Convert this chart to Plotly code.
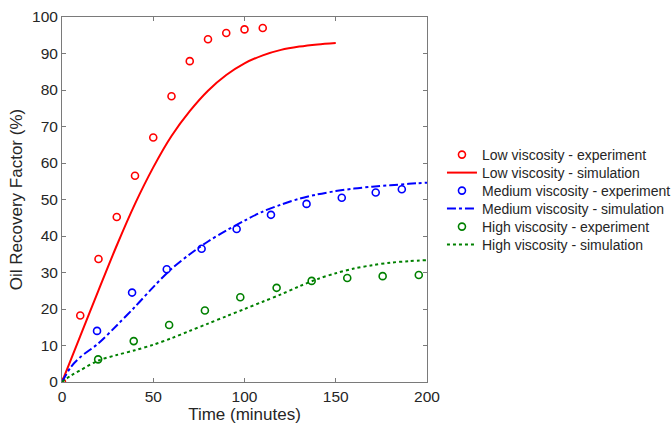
import plotly.graph_objects as go

# Experimental data
low_exp_t = [0, 10, 20, 30, 40, 50, 60, 70, 80, 90, 100, 110]
low_exp_v = [0, 18.2, 33.7, 45.2, 56.5, 67.0, 78.3, 87.9, 93.9, 95.6, 96.6, 97.0]
med_exp_t = [19.2, 38.4, 57.4, 76.5, 95.7, 114.5, 134, 153.3, 171.9, 186.2]
med_exp_v = [14.0, 24.5, 30.9, 36.5, 41.9, 45.8, 48.8, 50.5, 51.9, 52.8]
high_exp_t = [19.8, 39.3, 58.7, 78.3, 97.7, 117.6, 136.8, 156.3, 175.7, 195.5]
high_exp_v = [6.2, 11.2, 15.6, 19.6, 23.2, 25.8, 27.7, 28.5, 29.0, 29.3]

# Simulation curves
low_sim_t = [0, 10, 20, 30, 40, 50, 60, 70, 80, 90, 100, 110, 120, 130, 140, 150]
low_sim_v = [0, 12.6, 25.1, 37.4, 48.8, 58.8, 67.4, 74.2, 79.8, 84.1, 87.3, 89.5, 91.0, 91.9, 92.5, 92.9]
sim_t = [0, 5, 10, 20, 30, 40, 50, 60, 70, 80, 90, 100, 110, 120, 130, 140, 150, 160, 170, 180, 190, 200]
med_sim_v = [0, 4.2, 6.8, 10.6, 15.5, 20.6, 26.0, 31.0, 35.0, 38.5, 41.5, 44.2, 46.7, 48.6, 50.2, 51.4, 52.3, 53.0, 53.5, 53.9, 54.3, 54.6]
high_sim_v = [0, 1.8, 3.2, 5.9, 7.4, 8.7, 10.2, 12.0, 14.0, 16.0, 18.0, 20.0, 22.0, 24.0, 26.2, 28.2, 29.8, 31.1, 32.0, 32.7, 33.1, 33.4]

series_names = ["Low viscosity - experiment", "Low viscosity - simulation",
                "Medium viscosity - experiment", "Medium viscosity - simulation",
                "High viscosity - experiment", "High viscosity - simulation"]

RED = "#ff0000"
BLUE = "#0000ff"
GREEN = "#008000"

legend_ids = ["legend", "legend2", "legend3", "legend4", "legend5", "legend6"]

fig = go.Figure()

def exp_trace(t, v, color, idx):
    return go.Scatter(x=t, y=v, mode="markers", name=series_names[idx], legend=legend_ids[idx],
                      showlegend=True,
                      marker=dict(symbol="circle-open", size=7, color=color,
                                  line=dict(width=1.6, color=color)))

def sim_trace(t, v, color, dash, idx):
    return go.Scatter(x=t, y=v, mode="lines", name=series_names[idx], legend=legend_ids[idx],
                      showlegend=True,
                      line=dict(color=color, width=2, dash=dash, shape="spline", smoothing=0.9))

fig.add_trace(exp_trace(low_exp_t, low_exp_v, RED, 0))
fig.add_trace(sim_trace(low_sim_t, low_sim_v, RED, "solid", 1))
fig.add_trace(exp_trace(med_exp_t, med_exp_v, BLUE, 2))
fig.add_trace(sim_trace(sim_t, med_sim_v, BLUE, "dashdot", 3))
fig.add_trace(exp_trace(high_exp_t, high_exp_v, GREEN, 4))
fig.add_trace(sim_trace(sim_t, high_sim_v, GREEN, "dot", 5))

axis_common = dict(showline=True, linecolor="#7a7a7a", linewidth=1, mirror="ticks",
                   ticks="inside", ticklen=4, tickcolor="#7a7a7a", showgrid=False,
                   zeroline=False, automargin=False,
                   tickfont=dict(family="Arial", size=15.5, color="#262626"),
                   title_font=dict(family="Arial", size=17, color="#262626"))

fig.update_xaxes(range=[0, 200], tickvals=[0, 50, 100, 150, 200],
                 title_text="Time (minutes)", title_standoff=2, **axis_common)
fig.update_yaxes(range=[0, 100], tickvals=list(range(0, 101, 10)),
                 title_text="Oil Recovery Factor (%)", title_standoff=5, **axis_common)

# legend rows, 18 px apart, first row centred at ~155 px from top (plot spans 17..382 px)
plot_top, plot_h = 17, 365
legend_layout = {}
for i, lid in enumerate(legend_ids):
    row_px = 155 + 18 * i
    legend_layout[lid] = dict(x=1.041, y=(plot_top + plot_h - row_px) / plot_h,
                              xanchor="left", yanchor="middle", visible=True,
                              font=dict(family="Arial", size=14, color="#262626"),
                              bgcolor="rgba(0,0,0,0)", itemwidth=30)

fig.update_layout(
    width=671, height=429,
    showlegend=True,
    margin=dict(l=62, r=244, t=17, b=47, autoexpand=False),
    paper_bgcolor="white", plot_bgcolor="white",
    font=dict(family="Arial", color="#262626"),
    **legend_layout,
)

fig.write_html("out.html")
